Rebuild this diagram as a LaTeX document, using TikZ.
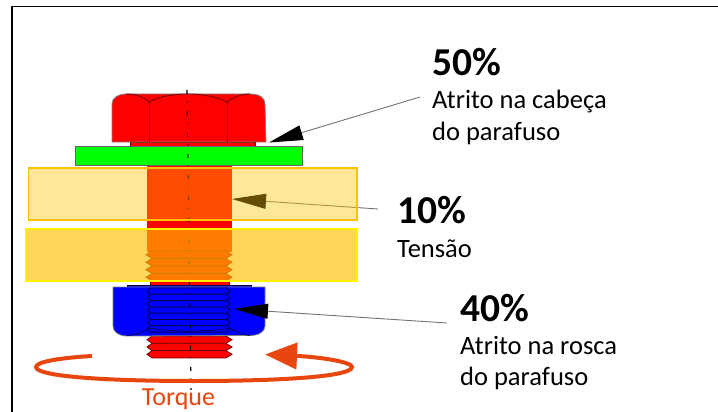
\documentclass[tikz,border=0pt]{standalone}
\usepackage{fontspec}
\setmainfont{Carlito}
\usepackage{xcolor}
\usetikzlibrary{arrows.meta}
\definecolor{boltred}{RGB}{255,0,0}
\definecolor{darkred}{RGB}{110,0,0}
\definecolor{nutblue}{RGB}{0,0,255}
\definecolor{darkblue}{RGB}{0,0,70}
\definecolor{plateorange}{RGB}{255,192,0}
\definecolor{torquecolor}{RGB}{232,70,15}
\tikzset{
    bigpct/.style={anchor=base west,inner sep=0pt,font=\fontsize{39.5}{44}\selectfont\bfseries},
    smalltxt/.style={anchor=base west,inner sep=0pt,font=\fontsize{26.5}{31}\selectfont},
    pointer/.style={draw=black!55,line width=.9pt,-{Triangle[length=34pt,width=15pt,color=black]}},
    boltpart/.style={fill=boltred,draw=darkred,line width=.8pt},
    nutpart/.style={fill=nutblue,draw=darkblue,line width=.8pt},
    plate/.style={fill=plateorange,line width=1.2pt}
}
\begin{document}
\begin{tikzpicture}[x=1pt,y=-1pt]
    \useasboundingbox (0,0) rectangle (718,412);
    % frame
    \draw[line width=1.2pt] (12,412) -- (12,6.5) -- (718,6.5);
    % pointer ends
    \coordinate (headend) at (420,97);
    \coordinate (headtip) at (269,142.5);
    \coordinate (shankend) at (378,209);
    \coordinate (shanktip) at (232,199);
    \coordinate (threadend) at (447,323);
    \coordinate (threadtip) at (234,309);
    % shank and threads
    \path[boltpart,draw=none] (147,165) rectangle (232,252);
    \foreach \y in {251,258.5,266,273.5} {
        \draw[boltpart] (152,\y) -- (146,\y+3.7) -- (152,\y+7.5) -- (226,\y+7.5) -- (232,\y+3.7) -- (226,\y) -- cycle;
    }
    \path[boltpart] (150,281) rectangle (229,287);
    \foreach \y in {336,343.3,350.6} {
        \draw[boltpart] (152,\y) -- (147,\y+3.7) -- (152,\y+7.3) -- (226,\y+7.3) -- (232,\y+3.7) -- (226,\y) -- cycle;
    }
    % head
    \draw[boltpart] (130,142) rectangle (255,146);
    \draw[boltpart,draw=black!50] (112,142) -- (112,104) .. controls (112,98) and (118,94) .. (126,94)
        -- (250,94) .. controls (260,94) and (265,98) .. (265,104) -- (266,142) -- cycle;
    \draw[darkred,line width=.8pt] (149,142) -- (149,102);
    \draw[darkred,line width=.8pt] (227,142) -- (227,102);
    \draw[darkred,line width=.8pt] (126,94) .. controls (135,94) and (144,97) .. (149,102)
        .. controls (160,96) and (175,94) .. (188,94) .. controls (203,94) and (217,97) .. (227,102)
        .. controls (233,97) and (242,94) .. (250,94);
    % washer
    \draw[fill=green,draw=black!60,line width=.6pt] (75,146) rectangle (302,165);
    % nut
    \draw[nutpart] (127,285) rectangle (251,288);
    \draw[nutpart,draw=black!50] (113,287) -- (265,287) -- (265,326) .. controls (265,332) and (258,335.5) .. (250,335.5)
        -- (127,336) .. controls (119,336) and (113,332) .. (113,326) -- cycle;
    \foreach \y in {288,294.3,...,332} {
        \draw[nutpart] (150,\y) -- (147.5,\y+3.1) -- (150,\y+6.3) -- (227,\y+6.3) -- (230,\y+3.1) -- (227,\y) -- cycle;
    }
    \draw[darkblue,line width=.6pt] (127,335.5) .. controls (138,335) and (145,331) .. (149,328)
        .. controls (170,332) and (210,332) .. (230,328) .. controls (235,331) and (242,335) .. (250,335.5);
    % center line
    \draw[black,line width=1.2pt,dash pattern=on 4pt off 7.5pt on .8pt off 9pt] (187,90) -- (191,390);
    % pointer under the plate
    \draw[pointer] (shankend) -- (shanktip);
    % plates
    \path[plate,fill opacity=.4,draw=plateorange] (28.5,168) rectangle (357,220);
    \path[plate,fill opacity=.65,draw=yellow] (26,229) rectangle (357,281);
    % pointers
    \draw[pointer] (headend) -- (headtip);
    \draw[pointer] (threadend) -- (threadtip);
    % torque
    \coordinate (torquestart) at (92,356);
    \coordinate (torquetip) at (265,354.5);
    \draw[torquecolor,line width=4pt,-{Triangle[length=32pt,width=26pt,color=torquecolor]}] (torquestart)
        .. controls (58,358) and (36,362) .. (36,367) .. controls (36,376) and (100,381) .. (194,381)
        .. controls (288,381) and (352,376) .. (352,367) .. controls (352,362) and (320,357) .. (torquetip);
    \node[anchor=base,inner sep=0pt,text=torquecolor,font=\fontsize{26}{31}\selectfont] (torque) at (178.5,405.5) {Torque};
    % labels
    \node[bigpct] (pcta) at (432,76) {50\%};
    \node[smalltxt] (txta) at (432,109) {Atrito na cabeça};
    \node[smalltxt] (txtb) at (432,140) {do parafuso};
    \node[bigpct] (pctb) at (397,223) {10\%};
    \node[smalltxt] (txtc) at (397,257) {Tensão};
    \node[bigpct] (pctc) at (460,321) {40\%};
    \node[smalltxt] (txtd) at (460,354) {Atrito na rosca};
    \node[smalltxt] (txte) at (460,385) {do parafuso};
\end{tikzpicture}
\end{document}
